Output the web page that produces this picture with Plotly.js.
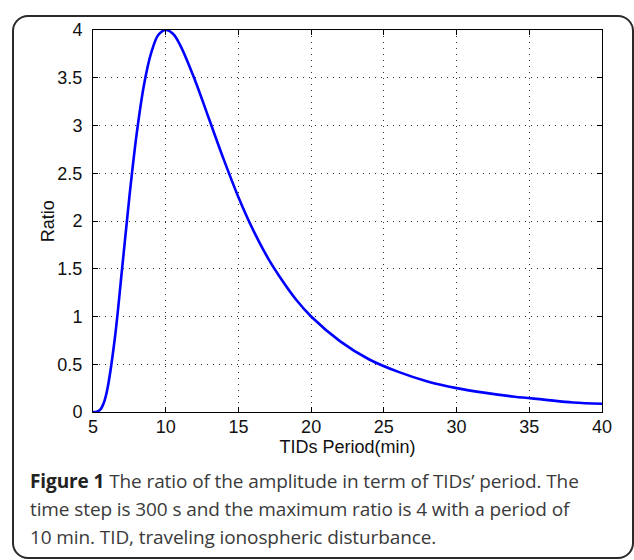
<!DOCTYPE html>
<html>
<head>
<meta charset="utf-8">
<script src="https://cdn.plot.ly/plotly-3.0.1.min.js"></script>
<style>
  html, body { margin:0; padding:0; background:#fff; width:634px; height:560px; overflow:hidden; }
  #frame { position:absolute; left:12px; top:15px; width:618px; height:540px; border:2px solid #2a2a2a; border-radius:16px; }
  #chart { position:absolute; left:0; top:0; width:634px; height:560px; }
  #caption { position:absolute; left:30px; top:467px; font-family:"Open Sans", sans-serif; font-size:19px; line-height:28px; color:#3a3a3a; white-space:nowrap; letter-spacing:-0.1px; }
  #caption b { color:#222; }
</style>
</head>
<body>
<div id="frame"></div>
<div id="chart"></div>
<div id="caption"><b>Figure 1</b> The ratio of the amplitude in term of TIDs’ period. The<br>time step is 300 s and the maximum ratio is 4 with a period of<br>10 min. TID, traveling ionospheric disturbance.</div>
<script>
// TIDs period (min)
var period = [5, 5.25, 5.5, 5.75, 6, 6.5, 7, 7.5, 8, 8.5, 9, 9.5, 10, 10.5, 11, 12, 13, 14, 15, 16, 17, 18, 19, 20, 22, 24, 26, 28, 30, 32, 34, 36, 38, 40];
// amplitude ratio
var ratio = [0, 0.002, 0.025, 0.10, 0.25, 0.77, 1.50, 2.25, 2.91, 3.42, 3.76, 3.95, 4.0, 3.96, 3.84, 3.48, 3.06, 2.64, 2.25, 1.91, 1.62, 1.38, 1.17, 1.0, 0.74, 0.55, 0.42, 0.32, 0.25, 0.20, 0.16, 0.13, 0.10, 0.086];
var xTicks = [5, 10, 15, 20, 25, 30, 35, 40];
var yTicks = [0, 0.5, 1, 1.5, 2, 2.5, 3, 3.5, 4];
var yTickText = ['0', '0.5', '1', '1.5', '2', '2.5', '3', '3.5', '4'];

var trace = {
  x: period, y: ratio, mode: 'lines', type: 'scatter',
  line: { color: '#0000ff', width: 2.6, shape: 'spline', smoothing: 1 },
  hoverinfo: 'none'
};
var fam = 'Liberation Sans, Arial, sans-serif';
var axisFont = { family: fam, size: 18, color: '#111' };
var layout = {
  width: 634, height: 560,
  margin: { l: 93, r: 32, t: 30, b: 148 },
  paper_bgcolor: 'rgba(0,0,0,0)', plot_bgcolor: '#fff',
  showlegend: false,
  xaxis: {
    range: [5, 40], tickvals: xTicks, ticktext: xTicks.map(String),
    showline: true, mirror: 'ticks', linecolor: '#000', linewidth: 1,
    ticks: 'inside', ticklen: 5, tickcolor: '#000',
    showgrid: true, gridcolor: '#333', griddash: '1px,5px', gridwidth: 1,
    zeroline: false, tickfont: axisFont, ticklabelstandoff: -2,
    title: { text: 'TIDs Period(min)', font: { family: fam, size: 18, color: '#111' }, standoff: 2 }
  },
  yaxis: {
    range: [0, 4], tickvals: yTicks, ticktext: yTickText,
    showline: true, mirror: 'ticks', linecolor: '#000', linewidth: 1,
    ticks: 'inside', ticklen: 5, tickcolor: '#000',
    showgrid: true, gridcolor: '#333', griddash: '1px,5px', gridwidth: 1,
    zeroline: false, tickfont: axisFont, ticklabelstandoff: 6
  },
  annotations: [{
    text: 'Ratio', textangle: -90, showarrow: false,
    xref: 'paper', yref: 'paper', x: -0.088, y: 0.5, xanchor: 'center', yanchor: 'middle',
    font: { family: fam, size: 18, color: '#111' }
  }]
};
Plotly.newPlot('chart', [trace], layout, { staticPlot: true, displayModeBar: false });
</script>
</body>
</html>
